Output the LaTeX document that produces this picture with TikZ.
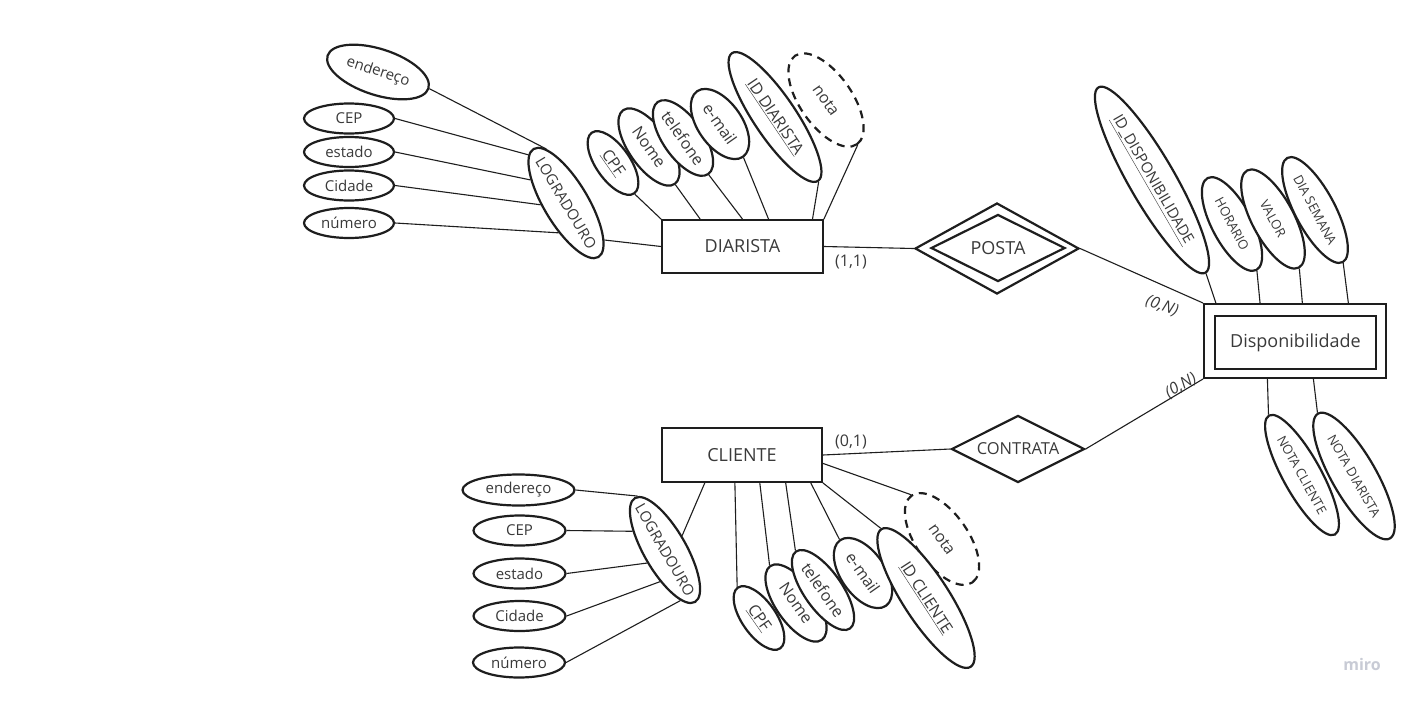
\documentclass[tikz,border=0pt]{standalone}
\usepackage{fontspec}
\setmainfont{Open Sans}
\usetikzlibrary{shapes.geometric,calc}
\definecolor{ink}{HTML}{1E1E1E}
\definecolor{txt}{HTML}{3A3A3A}
\definecolor{miroc}{HTML}{C8CBD5}
\newcommand{\zw}[1]{\makebox[0pt]{#1}}
\begin{document}
\begin{tikzpicture}[x=1pt,y=-1pt,
  attr/.style args={#1/#2/#3}{ellipse, draw=ink, line width=2.2pt, fill=white,
     minimum width=2*#1, minimum height=2*#2, inner sep=0pt, rotate=#3, text=txt,
     font=\fontsize{15}{18}\selectfont},
  sfont/.style={font=\fontsize{13}{16}\selectfont},
  mfont/.style={font=\fontsize{15}{18}\selectfont},
  bfont/.style={font=\fontsize{16}{19}\selectfont},
  dashedattr/.style={dash pattern=on 8pt off 6pt},
  entity/.style={draw=ink, line width=1.8pt, fill=white, minimum width=161, minimum height=53,
     inner sep=0pt, text=txt, font=\fontsize{18}{22}\selectfont},
  rel/.style={diamond, draw=ink, line width=2.2pt, fill=white, inner sep=0pt, text=txt,
     font=\fontsize{18}{22}\selectfont},
  card/.style={text=txt, inner sep=0pt, font=\fontsize{16}{19}\selectfont},
  cardi/.style={text=txt, inner sep=0pt, font=\fontsize{16}{19}\selectfont\itshape},
  conn/.style={draw=ink, line width=1.1pt}
]
\fill[white] (0,0) rectangle (1417,705);
\path[use as bounding box] (0,0) rectangle (1417,705);

% entities and relationships
\node[entity] (diar) at (742.5,246.5) {DIARISTA};
\node[entity, minimum width=160, minimum height=54] (cli) at (742,455) {CLIENTE};
\node[rel, minimum width=164, minimum height=91] (postaout) at (997,248.5) {};
\node[rel, minimum width=134, minimum height=67] (posta) at (998,248) {\zw{POSTA}};
\node[rel, minimum width=133, minimum height=67, font=\fontsize{16.5}{20}\selectfont] (contr) at (1018,449) {\zw{CONTRATA}};
\node[draw=ink, line width=2pt, fill=white, minimum width=182, minimum height=74, inner sep=0pt] (dispout) at (1295,341) {};
\node[entity] (disp) at (1295.5,342.5) {Disponibilidade};

% ---------- DIARISTA address ----------
\node[attr=53/23/-18] (end1) at (378,72) {\zw{endereço}};
\node[attr=45/15/0] (cep1) at (349,118.5) {\zw{CEP}};
\node[attr=45/15/0] (est1) at (349,152) {\zw{estado}};
\node[attr=45/15/0] (cid1) at (349,185.5) {\zw{Cidade}};
\node[attr=45/15/0] (num1) at (349,223) {\zw{número}};
\node[attr=63/22/-59] (log1) at (566,203) {\zw{LOGRADOURO}};
\draw[conn] (end1.east) -- (log1.169);
\draw[conn] (cep1.east) -- (log1.187);
\draw[conn] (est1.east) -- (log1.206);
\draw[conn] (cid1.east) -- (log1.243);
\draw[conn] (num1.east) -- (log1.315);
\draw[conn] (log1.15) -- (diar.west);

% ---------- DIARISTA attributes ----------
\node[attr=37/17/-55, bfont] (cpf1) at (613,163) {\zw{\underline{CPF}}};
\node[attr=45/20/-55, bfont] (nome1) at (649,147) {\zw{Nome}};
\node[attr=44/20/-55, bfont] (tel1) at (683,138) {\zw{telefone}};
\node[attr=40/22/-55, bfont] (mail1) at (720,124) {\zw{e-mail}};
\node[attr=77/21/-56, bfont] (id1) at (775,117) {\zw{\underline{ID DIARISTA}}};
\node[attr=54/26/-55, dashedattr, bfont] (nota1) at (826,100) {\zw{nota}};
\draw[conn] (cpf1.east) -- (diar.north west);
\draw[conn] (nome1.east) -- ($(diar.north west)!0.24!(diar.north east)$);
\draw[conn] (tel1.east) -- ($(diar.north west)!0.5!(diar.north east)$);
\draw[conn] (mail1.east) -- ($(diar.north west)!0.66!(diar.north east)$);
\draw[conn] (id1.east) -- ($(diar.north west)!0.93!(diar.north east)$);
\draw[conn] (nota1.east) -- (diar.north east);

% ---------- POSTA ----------
\draw[conn] (diar.east) -- (postaout.west);
\node[card] (c11) at (851,262) {(1,1)};
\draw[conn] (postaout.east) -- (dispout.north west);
\node[cardi, rotate=-20] (c0n1) at (1162,306) {(0,N)};

% ---------- Disponibilidade attributes ----------
\node[attr=107/23/-60, mfont] (iddisp) at (1152,180) {\zw{\underline{ID\_DISPONIBILIDADE}}};
\node[attr=52/20/-62, sfont] (hor) at (1232,224) {\zw{HORARIO}};
\node[attr=55/21/-62, sfont] (val) at (1273,219) {\zw{VALOR}};
\node[attr=59/20/-62, sfont] (dia) at (1315,210) {\zw{DIA SEMANA}};
\node[attr=68/19/-61, sfont] (ncli) at (1302,475) {\zw{NOTA CLIENTE}};
\node[attr=72/22/-60, sfont] (ndia) at (1354,476) {\zw{NOTA DIARISTA}};
\draw[conn] (iddisp.east) -- ($(dispout.north west)!0.07!(dispout.north east)$);
\draw[conn] (hor.east) -- ($(dispout.north west)!0.31!(dispout.north east)$);
\draw[conn] (val.east) -- ($(dispout.north west)!0.54!(dispout.north east)$);
\draw[conn] (dia.east) -- ($(dispout.north west)!0.79!(dispout.north east)$);
\draw[conn] (ncli.west) -- ($(dispout.south west)!0.35!(dispout.south east)$);
\draw[conn] (ndia.west) -- ($(dispout.south west)!0.60!(dispout.south east)$);

% ---------- CONTRATA ----------
\draw[conn] (cli.east) -- (contr.west);
\node[card] (c01) at (851,442) {(0,1)};
\draw[conn] (contr.east) -- (dispout.south west);
\node[cardi, rotate=30] (c0n2) at (1181,386) {(0,N)};

% ---------- CLIENTE attributes ----------
\node[attr=53/26/-55, dashedattr, bfont] (nota2) at (942,539) {\zw{nota}};
\draw[conn] ($(cli.north east)!0.65!(cli.south east)$) -- (nota2.west);
\node[attr=37/17/-55, bfont] (cpf2) at (759,618) {\zw{\underline{CPF}}};
\node[attr=45/20/-55, bfont] (nome2) at (796,603) {\zw{Nome}};
\node[attr=47/19/-55, bfont] (tel2) at (823,590) {\zw{telefone}};
\node[attr=40/22/-55, bfont] (mail2) at (863,573) {\zw{e-mail}};
\node[attr=82/23/-57, bfont] (id2) at (926,598) {\zw{\underline{ID CLIENTE}}};
\draw[conn] (cpf2.west) -- ($(cli.south west)!0.456!(cli.south east)$);
\draw[conn] (nome2.west) -- ($(cli.south west)!0.61!(cli.south east)$);
\draw[conn] (tel2.west) -- ($(cli.south west)!0.77!(cli.south east)$);
\draw[conn] (mail2.west) -- ($(cli.south west)!0.925!(cli.south east)$);
\draw[conn] (id2.west) -- (cli.south east);

% ---------- CLIENTE address ----------
\node[attr=60/21/-60] (log2) at (665,550) {\zw{LOGRADOURO}};
\node[attr=56/15.5/0] (end2) at (518.5,490) {\zw{endereço}};
\node[attr=46/15/0] (cep2) at (519.5,530.5) {\zw{CEP}};
\node[attr=46/15/0] (est2) at (519.5,573.5) {\zw{estado}};
\node[attr=46/15/0] (cid2) at (519.5,616) {\zw{Cidade}};
\node[attr=46/15/0] (num2) at (519,662.5) {\zw{número}};
\draw[conn] (end2.east) -- (log2.177);
\draw[conn] (cep2.east) -- (log2.210);
\draw[conn] (est2.east) -- (log2.276);
\draw[conn] (cid2.east) -- (log2.321);
\draw[conn] (num2.east) -- (log2.347);
\draw[conn] (log2.100) -- ($(cli.south west)!0.27!(cli.south east)$);

% watermark
\node[text=miroc, font=\fontsize{16}{19}\selectfont\bfseries] (miro) at (1362,664) {miro};
\end{tikzpicture}
\end{document}
